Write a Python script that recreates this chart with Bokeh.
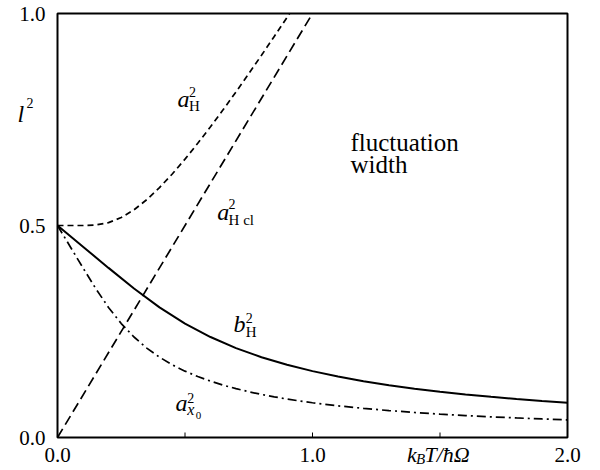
from bokeh.plotting import figure
from bokeh.models import Range1d, Label
from bokeh.core.properties import value
from bokeh.embed import file_html
from bokeh.resources import INLINE

# ---- data ----
T_aH = [0.0, 0.1, 0.15, 0.2, 0.25, 0.3, 0.35, 0.4, 0.45, 0.5, 0.55, 0.6, 0.65, 0.7, 0.75, 0.8, 0.85, 0.9, 0.91]
aH2 = [0.5, 0.5, 0.5013, 0.5068, 0.5187, 0.537, 0.5609, 0.5894, 0.6215, 0.6565, 0.6938, 0.7329, 0.7734, 0.8152, 0.858, 0.9015, 0.9459, 0.9907, 1.0]

T_acl = [0.0, 1.0]
acl2 = [0.0, 1.0]

T_ax0 = [0.0, 0.05, 0.1, 0.15, 0.2, 0.25, 0.3, 0.35, 0.4, 0.45, 0.5, 0.55, 0.6, 0.65, 0.7, 0.75, 0.8,
         0.85, 0.9, 0.95, 1.0, 1.1, 1.2, 1.3, 1.4, 1.5, 1.6, 1.7, 1.8, 1.9, 2.0]
ax02 = [0.5, 0.45, 0.4, 0.3513, 0.3068, 0.2687, 0.237, 0.2109, 0.1894, 0.1715, 0.1565, 0.1438, 0.1329,
        0.1234, 0.1152, 0.108, 0.1015, 0.0959, 0.0907, 0.0861, 0.082, 0.0747, 0.0687, 0.0635, 0.059,
        0.0551, 0.0517, 0.0487, 0.0461, 0.0437, 0.0415]

T_bH = [0.0, 0.1, 0.2, 0.3, 0.4, 0.5, 0.6, 0.7, 0.8, 0.9, 1.0, 1.1, 1.2, 1.3, 1.4, 1.5, 1.6, 1.7, 1.8, 1.9, 2.0]
bH2 = [0.5, 0.45, 0.4, 0.3513, 0.3068, 0.2687, 0.237, 0.2109, 0.1894, 0.1715, 0.1565, 0.1438, 0.1329,
       0.1234, 0.1152, 0.108, 0.1015, 0.0959, 0.0907, 0.0861, 0.082]

# axis limits and ticks
X_LIM = [0.0, 2.0]
Y_LIM = [0.0, 1.0]
x_label_ticks = [0.0, 1.0, 2.0]
x_label_text = ["0.0", "1.0", "2.0"]
x_minor_ticks = [0.5, 1.0, 1.5]
y_label_ticks = [0.0, 0.5, 1.0]
y_label_text = ["0.0", "0.5", "1.0"]

# ---- layout (pixels) ----
W, H = 600, 470
LEFT, TOP = 57, 13
FW, FH = 510, 424
PX = FW / (X_LIM[1] - X_LIM[0])
PY = FH / (Y_LIM[1] - Y_LIM[0])
x_rng = Range1d(X_LIM[0] - LEFT / PX, X_LIM[0] + (W - LEFT) / PX)
y_rng = Range1d(Y_LIM[1] - (H - TOP) / PY, Y_LIM[1] + TOP / PY)

FONT = "Liberation Serif"

p = figure(frame_width=W, frame_height=H, output_backend="svg", toolbar_location=None,
           x_range=x_rng, y_range=y_rng, x_axis_type=None, y_axis_type=None,
           min_border=0)
p.background_fill_color = "white"
p.border_fill_color = "white"
p.outline_line_color = None
p.grid.visible = False

# frame box
p.quad(left=[X_LIM[0]], right=[X_LIM[1]], bottom=[Y_LIM[0]], top=[Y_LIM[1]],
       fill_color=None, line_color="black", line_width=2)
# inward ticks on the bottom axis
p.segment(x0=x_minor_ticks, y0=[Y_LIM[0]] * len(x_minor_ticks),
          x1=x_minor_ticks, y1=[Y_LIM[0] + 5 / PY] * len(x_minor_ticks),
          line_color="black", line_width=1)
# tick labels
p.text(x=x_label_ticks, y=[Y_LIM[0]] * len(x_label_ticks), text=x_label_text,
       text_align="center", text_baseline="alphabetic", y_offset=17,
       text_font=value(FONT), text_font_size="21px", text_color="black")
p.text(x=[X_LIM[0]] * len(y_label_ticks), y=y_label_ticks, text=y_label_text,
       text_align="right", text_baseline="alphabetic", x_offset=-12, y_offset=0,
       text_font=value(FONT), text_font_size="21px", text_color="black")

# curves
p.line(T_aH, aH2, line_color="black", line_width=1.7, line_dash="6 4")
p.line(T_acl, acl2, line_color="black", line_width=1.7, line_dash="10 5")
p.line(T_ax0, ax02, line_color="black", line_width=1.7, line_dash="9 4 2 4")
p.line(T_bH, bH2, line_color="black", line_width=2)


def lab(x, y, text, size, style="italic"):
    p.add_layout(Label(x=x, y=y, text=text, text_font=FONT, text_font_size=size,
                       text_font_style=style, text_color="black", text_baseline="alphabetic",
                       text_align="left"))

# a_H^2
lab(0.471, 0.7995, "a", "24px")
lab(0.516, 0.816, "2", "14px", "normal")
lab(0.516, 0.783, "H", "15px", "normal")
# a_Hcl^2
lab(0.626, 0.532, "a", "24px")
lab(0.671, 0.551, "2", "14px", "normal")
lab(0.671, 0.512, "H cl", "15px", "normal")
# b_H^2
lab(0.690, 0.268, "b", "24px")
lab(0.738, 0.282, "2", "14px", "normal")
lab(0.738, 0.250, "H", "15px", "normal")
# a_x0^2
lab(0.463, 0.0814, "a", "24px")
lab(0.509, 0.0932, "2", "14px", "normal")
lab(0.509, 0.066, "x", "16px")
lab(0.542, 0.053, "0", "11px", "normal")
# fluctuation width
lab(1.149, 0.6946, "fluctuation", "25px", "normal")
lab(1.149, 0.645, "width", "25px", "normal")
# y label l^2
lab(-0.157, 0.764, "l", "24px")
lab(-0.122, 0.790, "2", "14px", "normal")
# x label k_B T / hbar Omega
lab(1.371, -0.0401, "k", "22px")
lab(1.406, -0.0505, "B", "15px")
lab(1.439, -0.0401, "T/ħΩ", "22px")

open("out.html", "w").write(file_html(p, INLINE))
